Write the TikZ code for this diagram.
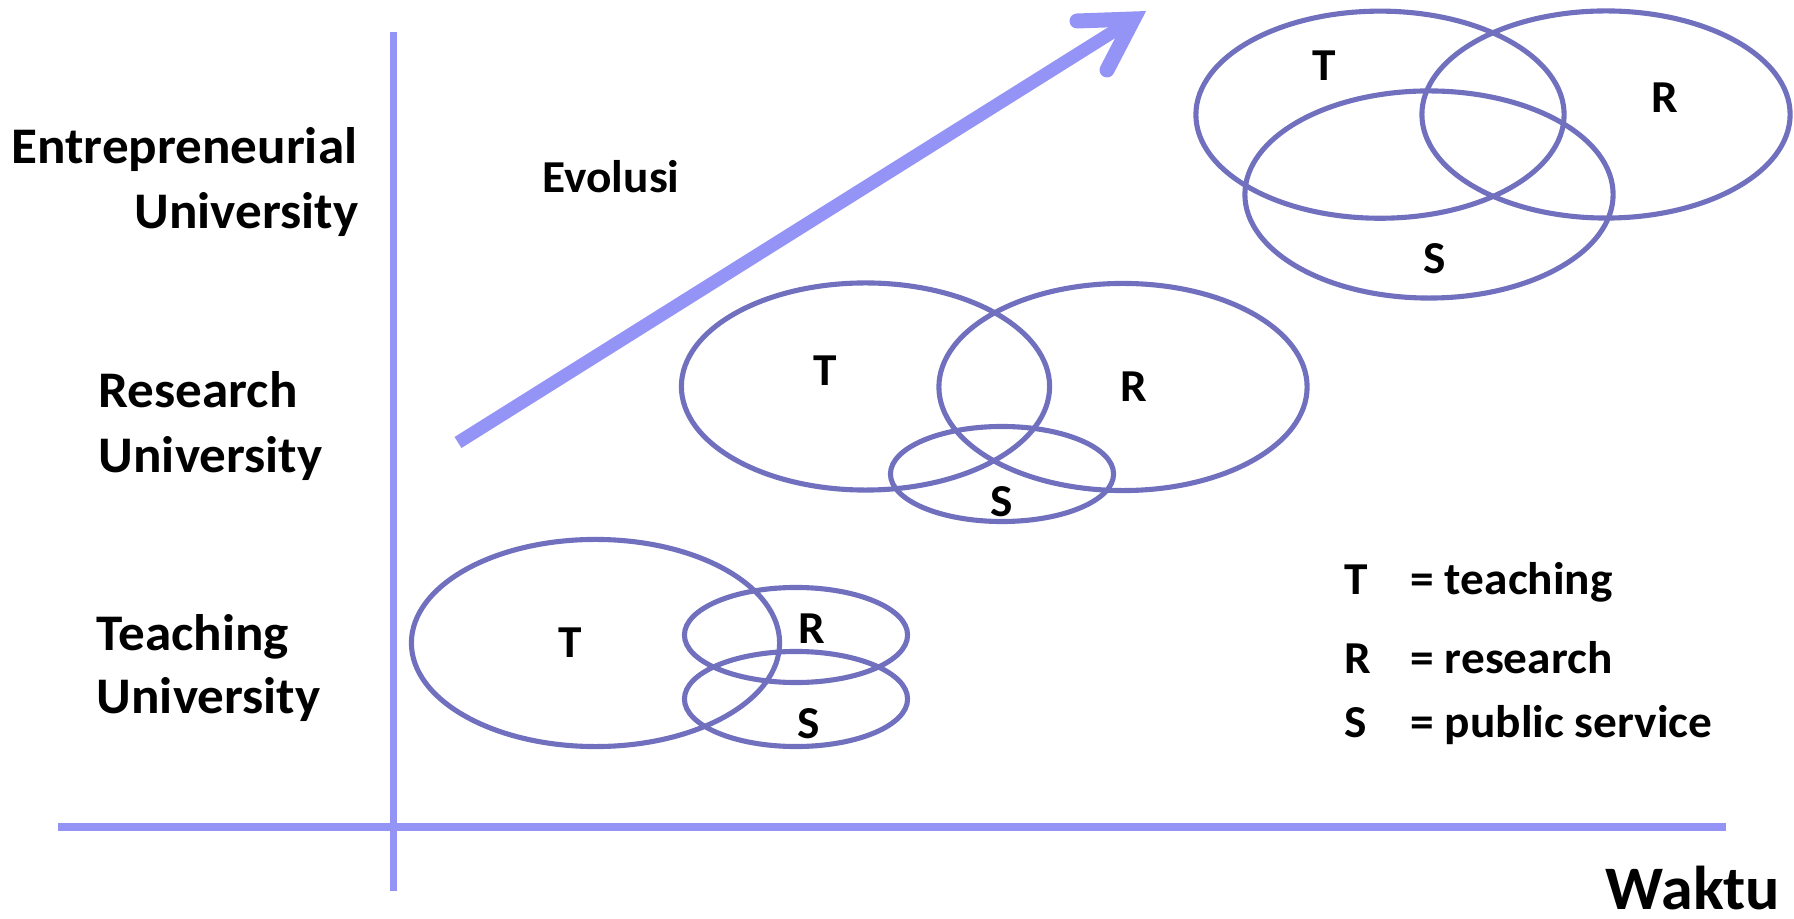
\documentclass[tikz,border=0pt]{standalone}
\usepackage{fontspec}
\setmainfont{Carlito}[FakeStretch=1.035]
\definecolor{axiscol}{HTML}{9494F7}
\definecolor{ellcol}{HTML}{7070BE}
\begin{document}
\begin{tikzpicture}[x=0.01cm,y=-0.01cm,
  axisline/.style={draw=axiscol,line width=0.075cm},
  evoshaft/.style={draw=axiscol,line width=0.13cm},
  evohead/.style={draw=axiscol,line width=0.15cm},
  ell/.style={draw=ellcol,line width=1.45pt},
  bigE/.style={x radius=1.84cm,y radius=1.035cm},
  smallE/.style={x radius=1.115cm,y radius=0.475cm},
  lab/.style={inner sep=0pt,font=\bfseries\fontsize{14.6}{17}\selectfont},
  evo/.style={inner sep=0pt,font=\bfseries\fontsize{13}{15}\selectfont},
  set/.style={inner sep=0pt,font=\bfseries\fontsize{13}{15}\selectfont},
  leg/.style={inner sep=0pt,anchor=base west,font=\bfseries\fontsize{13}{15}\selectfont},
  waktu/.style={inner sep=0pt,font=\bfseries\fontsize{17.6}{20}\selectfont}]
\useasboundingbox (0,0) rectangle (1794,919);
% axes
\coordinate (vtop) at (393.5,32);
\coordinate (vbot) at (393.5,891);
\coordinate (hleft) at (58,827);
\coordinate (hright) at (1726,827);
\draw[axisline] (vtop) -- (vbot);
\draw[axisline] (hleft) -- (hright);
% evolution arrow
\coordinate (ashaft) at (458,442.5);
\coordinate (atip) at (1133.5,19);
\coordinate (abarbl) at (1077,21);
\coordinate (abarbr) at (1107,70);
\draw[evoshaft,line cap=butt] (ashaft) -- (atip);
\draw[evohead,line cap=round,line join=miter] (abarbl) -- (atip) -- (abarbr);
% left labels
\node[lab,anchor=base east] (ent1) at (358,164) {Entrepreneurial};
\node[lab,anchor=base east] (ent2) at (359,229) {University};
\node[lab,anchor=base west] (res1) at (98,408) {Research};
\node[lab,anchor=base west] (res2) at (98,473) {University};
\node[lab,anchor=base west] (tea1) at (96,650) {Teaching};
\node[lab,anchor=base west] (tea2) at (96,714) {University};
\node[evo,anchor=base west] (evolusi) at (542,193) {Evolusi};
% top group
\coordinate (tT) at (1380,114.7);
\coordinate (tR) at (1606,114.5);
\coordinate (tS) at (1429,194.5);
\draw[ell] (tT) ellipse[bigE];
\draw[ell] (tR) ellipse[bigE];
\draw[ell] (tS) ellipse[bigE];
\node[set] (tTl) at (1324,66) {T};
\node[set] (tRl) at (1665,98) {R};
\node[set] (tSl) at (1435,259) {S};
% middle group
\coordinate (mT) at (865.5,386.5);
\coordinate (mR) at (1123,387);
\coordinate (mS) at (1002,474);
\draw[ell] (mT) ellipse[bigE];
\draw[ell] (mR) ellipse[bigE];
\draw[ell] (mS) ellipse[smallE];
\node[set] (mTl) at (825,371) {T};
\node[set] (mRl) at (1134,387) {R};
\node[set] (mSl) at (1002,502) {S};
% bottom group
\coordinate (bT) at (595.5,643);
\coordinate (bR) at (796,635);
\coordinate (bS) at (796,699);
\draw[ell] (bT) ellipse[bigE];
\draw[ell] (bR) ellipse[smallE];
\draw[ell] (bS) ellipse[smallE];
\node[set] (bTl) at (570,643) {T};
\node[set] (bRl) at (812,629) {R};
\node[set] (bSl) at (809,724) {S};
% legend
\node[leg] (legT) at (1344,595) {T};
\node[leg] (legTt) at (1410,595) {= teaching};
\node[leg] (legR) at (1344,673) {R};
\node[leg] (legRt) at (1410,673) {= research};
\node[leg] (legS) at (1344,738) {S};
\node[leg] (legSt) at (1410,738) {= public service};
% time label
\node[waktu,anchor=base east] (waktu) at (1781,909) {Waktu};
\end{tikzpicture}
\end{document}
